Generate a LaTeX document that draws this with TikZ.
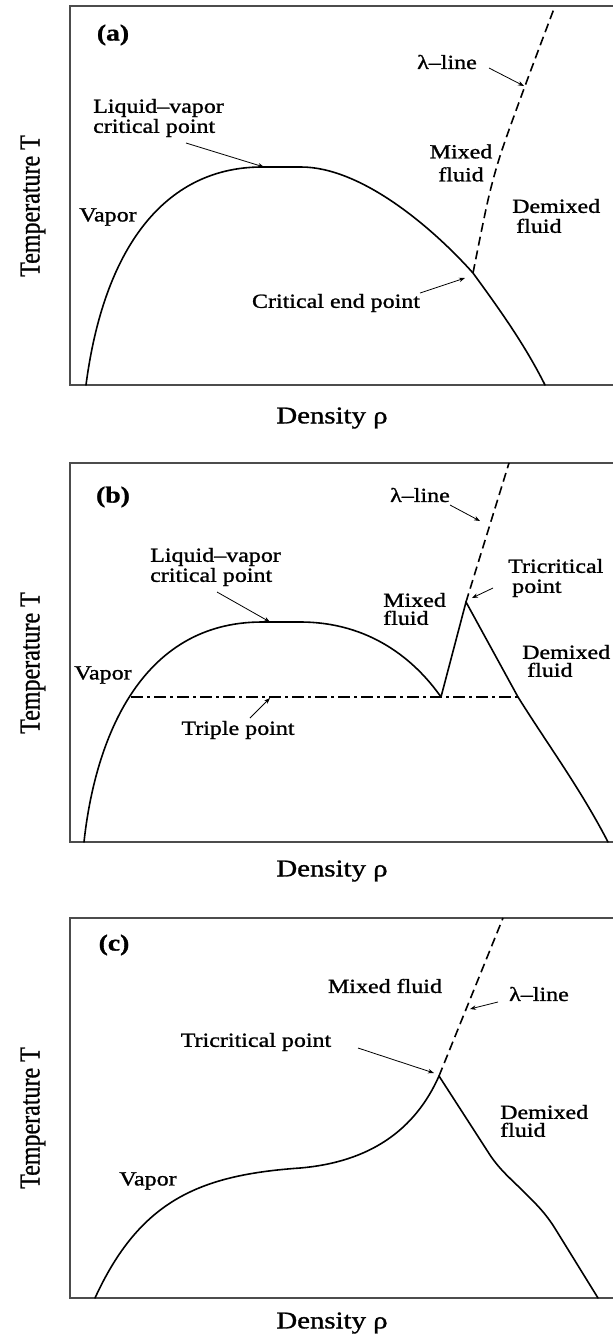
\documentclass[tikz,border=0pt]{standalone}
\usepackage{fontspec}
\usepackage{graphicx}
\setmainfont{Liberation Serif}[FakeBold=1]
\newfontfamily\wfont[FakeStretch=1.2,FakeBold=1.2]{Liberation Serif}
\usetikzlibrary{arrows.meta}
\tikzset{
  frame/.style={line width=1.5pt, draw=black!70, line cap=rect},
  curve/.style={line width=1.6pt, line join=round, line cap=round},
  lam/.style={line width=1.6pt, dash pattern=on 9pt off 5pt},
  triple/.style={line width=1.3pt, dash pattern=on 12pt off 4pt on 3pt off 4pt},
  pointer/.style={line width=0.8pt, -{Stealth[length=6pt,width=4.5pt]}},
  lbl/.style={font=\wfont\fontsize{20}{20}\selectfont, inner sep=0pt},
  panel/.style={font=\wfont\bfseries\fontsize{23}{23}\selectfont, inner sep=0pt},
  xlab/.style={font=\wfont\fontsize{24}{24}\selectfont, inner sep=0pt},
  ylab/.style={font=\fontsize{24}{24}\selectfont, inner sep=0pt, rotate=90},
}
\begin{document}
\begin{tikzpicture}[x=1pt,y=-1pt]
\useasboundingbox (0,0) rectangle (613,1342);

% ================= panel (a) =================
\draw[frame] (613,6) -- (70,6) -- (70,385) -- (613,385);
\node[panel] (pa) at (113,35) {(a)};
\node[ylab] (ta) at (33,206) {\scalebox{1}[1.2]{Temperature T}};
\node[xlab] (da) at (332,418) {Density ρ};
\node[lbl] (lama) at (447,62) {λ–line};
\node[lbl, align=left, anchor=west] (lva) at (93,118) {Liquid–vapor\\critical point};
\node[lbl, align=center] (mixa) at (461,163) {Mixed\\[3pt]fluid};
\node[lbl] (vapa) at (108,217) {Vapor};
\node[lbl, align=left, anchor=west] (dema) at (512,216) {Demixed\\\hspace{4pt}fluid};
\node[lbl] (cepa) at (336,303) {Critical end point};

\draw[curve] (86,385) .. controls (105,240) and (170,167) .. (262,167)
  -- (301,167) .. controls (360,167) and (430,225) .. (473,273)
  .. controls (500,310) and (525,345) .. (545,385);
\draw[lam] plot[smooth] coordinates {(473,273) (488,200) (501,153) (525,86) (555,6)};

\coordinate (cpa) at (264,167);
\coordinate (la) at (524,86);
\coordinate (cea) at (465,278);
\draw[pointer] (186,143) -- (cpa);
\draw[pointer] (489,68) -- (la);
\draw[pointer] (420,293) -- (cea);

% ================= panel (b) =================
\draw[frame] (613,463) -- (70,463) -- (70,842) -- (613,842);
\node[panel] (pb) at (113,497) {(b)};
\node[ylab] (tb) at (33,663) {\scalebox{1}[1.2]{Temperature T}};
\node[xlab] (db) at (332,871) {Density ρ};
\node[lbl] (lamb) at (420,495) {λ–line};
\node[lbl, align=left, anchor=west] (trib) at (508,578) {Tricritical\\\hspace{4pt}point};
\node[lbl, align=left, anchor=west] (mixb) at (383,609) {Mixed\\[-2pt]fluid};
\node[lbl, align=left, anchor=west] (lvb) at (150,567) {Liquid–vapor\\critical point};
\node[lbl] (vapb) at (103,675) {Vapor};
\node[lbl] (trpb) at (238,730) {Triple point};
\node[lbl, align=left, anchor=west] (demb) at (522,661) {Demixed\\[-2pt]\hspace{5pt}fluid};

\draw[curve] (84,842) .. controls (95,740) and (140,622) .. (262,622)
  -- (300,622) .. controls (370,622) and (415,660) .. (441,697)
  -- (466,602) -- (518,697)
  .. controls (548,745) and (580,788) .. (608,842);
\draw[triple] (131,697) -- (518,697);
\draw[lam] (466,602) -- (509,463);

\coordinate (cpb) at (270,622);
\coordinate (lb) at (480,521);
\coordinate (tcb) at (472,598);
\coordinate (tpb) at (270,698);
\draw[pointer] (217,592) -- (cpb);
\draw[pointer] (450,505) -- (lb);
\draw[pointer] (493,588) -- (tcb);
\draw[pointer] (250,718) -- (tpb);

% ================= panel (c) =================
\draw[frame] (613,918) -- (70,918) -- (70,1298) -- (613,1298);
\node[panel] (pc) at (114,945) {(c)};
\node[ylab] (tc) at (33,1118) {\scalebox{1}[1.2]{Temperature T}};
\node[xlab] (dc) at (332,1323) {Density ρ};
\node[lbl] (mixc) at (385,986) {Mixed fluid};
\node[lbl] (lamc) at (539,994) {λ–line};
\node[lbl] (tric) at (256,1042) {Tricritical point};
\node[lbl, align=left, anchor=west] (demc) at (500,1121) {Demixed\\[-2pt]fluid};
\node[lbl] (vapc) at (148,1181) {Vapor};

\draw[curve] (95,1298) .. controls (140,1200) and (200,1175) .. (300,1168)
  .. controls (370,1162) and (415,1130) .. (439,1076)
  -- (490,1155) .. controls (500,1170) and (512,1180) .. (522,1190)
  .. controls (535,1203) and (545,1212) .. (556,1230)
  -- (598,1298);
\draw[lam] (439,1076) -- (503,918);

\coordinate (lc) at (470,1009);
\coordinate (tcc) at (434,1073);
\draw[pointer] (498,1002) -- (lc);
\draw[pointer] (358,1048) -- (tcc);
\end{tikzpicture}
\end{document}
